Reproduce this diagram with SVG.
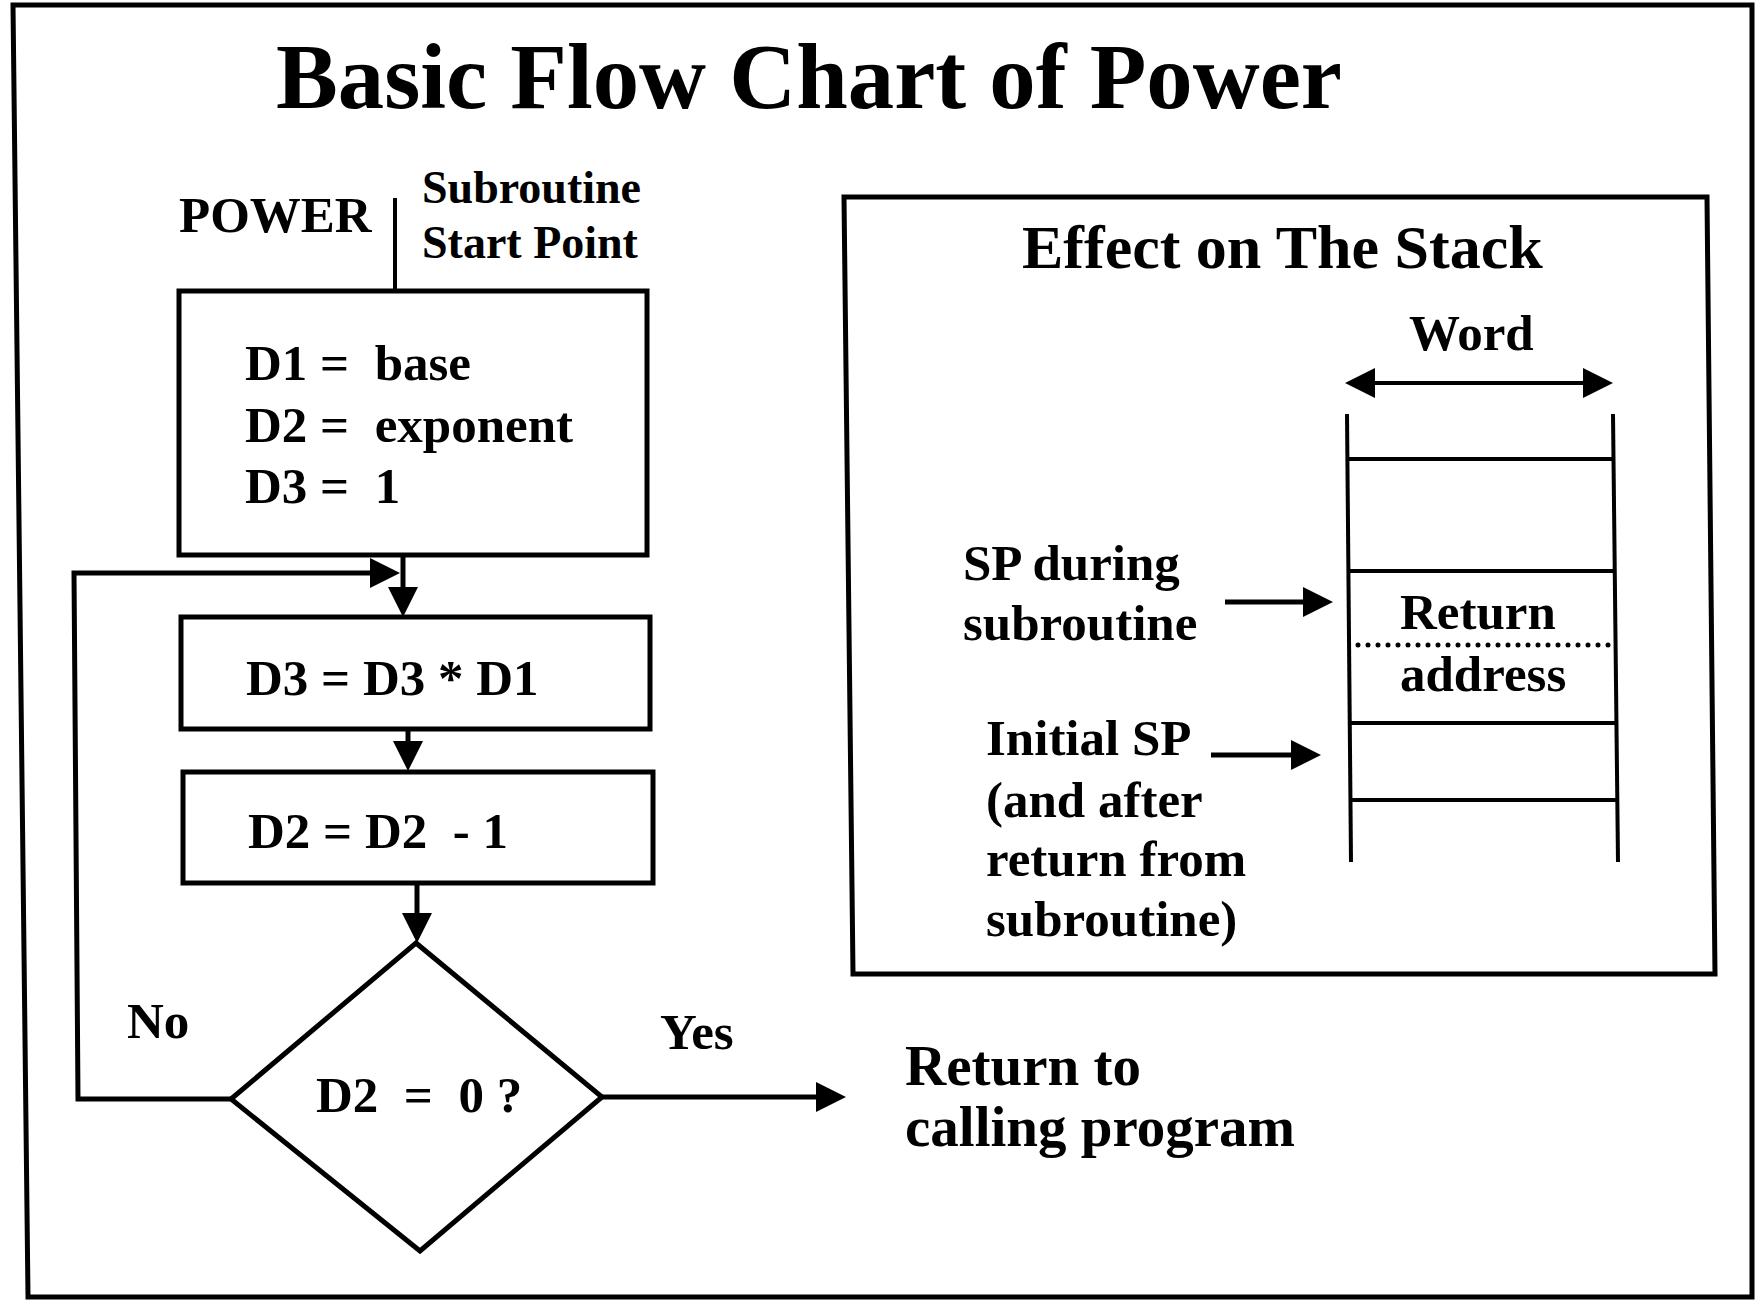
<svg xmlns="http://www.w3.org/2000/svg" width="1755" height="1300" viewBox="0 0 1755 1300">
<style>
text{font-family:"Liberation Serif","Times New Roman",serif;font-weight:bold;fill:#000;white-space:pre}
.t51{font-size:51px}
.t46{font-size:46px}
.shape{fill:#fff;stroke:#000;stroke-width:5}
.ln{fill:none;stroke:#000;stroke-width:5}
.thin{fill:none;stroke:#000;stroke-width:4}
</style>
<defs>
<marker id="ah" markerUnits="userSpaceOnUse" viewBox="0 0 30 30" refX="15" refY="15" markerWidth="30" markerHeight="30" orient="auto-start-reverse">
<path d="M0,0 L30,15 L0,30 Z" fill="#000"/>
</marker>
</defs>
<rect width="1755" height="1300" fill="#fff"/>
<g id="frame">
<path d="M13,5 H1752 V1297 H28 Z" class="ln" stroke-width="4"/>
</g>
<g id="title">
<text x="276" y="108" style="font-size:94px" textLength="1066" lengthAdjust="spacingAndGlyphs">Basic Flow Chart of Power</text>
</g>
<g id="start-label">
<text x="179" y="232" class="t51">POWER</text>
<text x="422" y="203" class="t46">Subroutine</text>
<text x="422" y="258" class="t46">Start Point</text>
</g>
<g id="init-box">
<rect x="179" y="291" width="468" height="264" class="shape"/>
<text x="245" y="380" class="t51">D1 =  base</text>
<text x="245" y="442" class="t51">D2 =  exponent</text>
<text x="245" y="503" class="t51">D3 =  1</text>
</g>
<g id="mult-box">
<rect x="181" y="617" width="469" height="112" class="shape"/>
<text x="246" y="695" class="t51">D3 = D3 * D1</text>
</g>
<g id="dec-box">
<rect x="183" y="772" width="470" height="111" class="shape"/>
<text x="248" y="848" class="t51">D2 = D2  - 1</text>
</g>
<g id="decision">
<polygon points="416,943 602,1097 420,1251 231,1099" class="shape"/>
<text x="316" y="1112" class="t51">D2  =  0 ?</text>
</g>
<g id="labels">
<text x="127" y="1038" class="t51">No</text>
<text x="660" y="1049" class="t51">Yes</text>
<text x="905" y="1085" style="font-size:57px">Return to</text>
<text x="905" y="1146" style="font-size:57px">calling program</text>
</g>
<g id="connectors">
<line x1="395" y1="198" x2="395" y2="291" class="thin"/>
<path d="M403,555 V602" class="ln" marker-end="url(#ah)"/>
<path d="M233,1099 H78 L74,573 H385" class="ln" marker-end="url(#ah)"/>
<path d="M408,729 V756" class="ln" marker-end="url(#ah)"/>
<path d="M417,883 V928" class="ln" marker-end="url(#ah)"/>
<path d="M602,1097 H831" class="ln" marker-end="url(#ah)"/>
</g>
<g id="stack-panel">
<path d="M844,197 L1707,197 L1715,974 L853,974 Z" class="ln"/>
<text x="1022" y="268" style="font-size:62px">Effect on The Stack</text>
<text x="1409" y="350" class="t51">Word</text>
<path d="M1360,383 H1598" class="thin" marker-start="url(#ah)" marker-end="url(#ah)"/>
</g>
<g id="stack">
<line x1="1347" y1="414" x2="1351" y2="862" class="thin"/>
<line x1="1613" y1="414" x2="1618" y2="862" class="thin"/>
<line x1="1347" y1="459" x2="1614" y2="459" class="thin"/>
<line x1="1348" y1="571" x2="1615" y2="571" class="thin"/>
<line x1="1358" y1="645" x2="1612" y2="645" stroke="#000" stroke-width="5" stroke-linecap="round" stroke-dasharray="0 10"/>
<line x1="1350" y1="723" x2="1617" y2="723" class="thin"/>
<line x1="1350" y1="800" x2="1617" y2="800" class="thin"/>
<text x="1400" y="629" class="t51">Return</text>
<text x="1400" y="691" class="t51">address</text>
</g>
<g id="sp-labels">
<text x="963" y="580" class="t51">SP during</text>
<text x="963" y="640" class="t51">subroutine</text>
<path d="M1225,602 H1318" class="ln" marker-end="url(#ah)"/>
<text x="986" y="755" class="t51">Initial SP</text>
<text x="986" y="817" class="t51">(and after</text>
<text x="986" y="876" class="t51">return from</text>
<text x="986" y="936" class="t51">subroutine)</text>
<path d="M1211,755 H1306" class="ln" marker-end="url(#ah)"/>
</g>
</svg>
